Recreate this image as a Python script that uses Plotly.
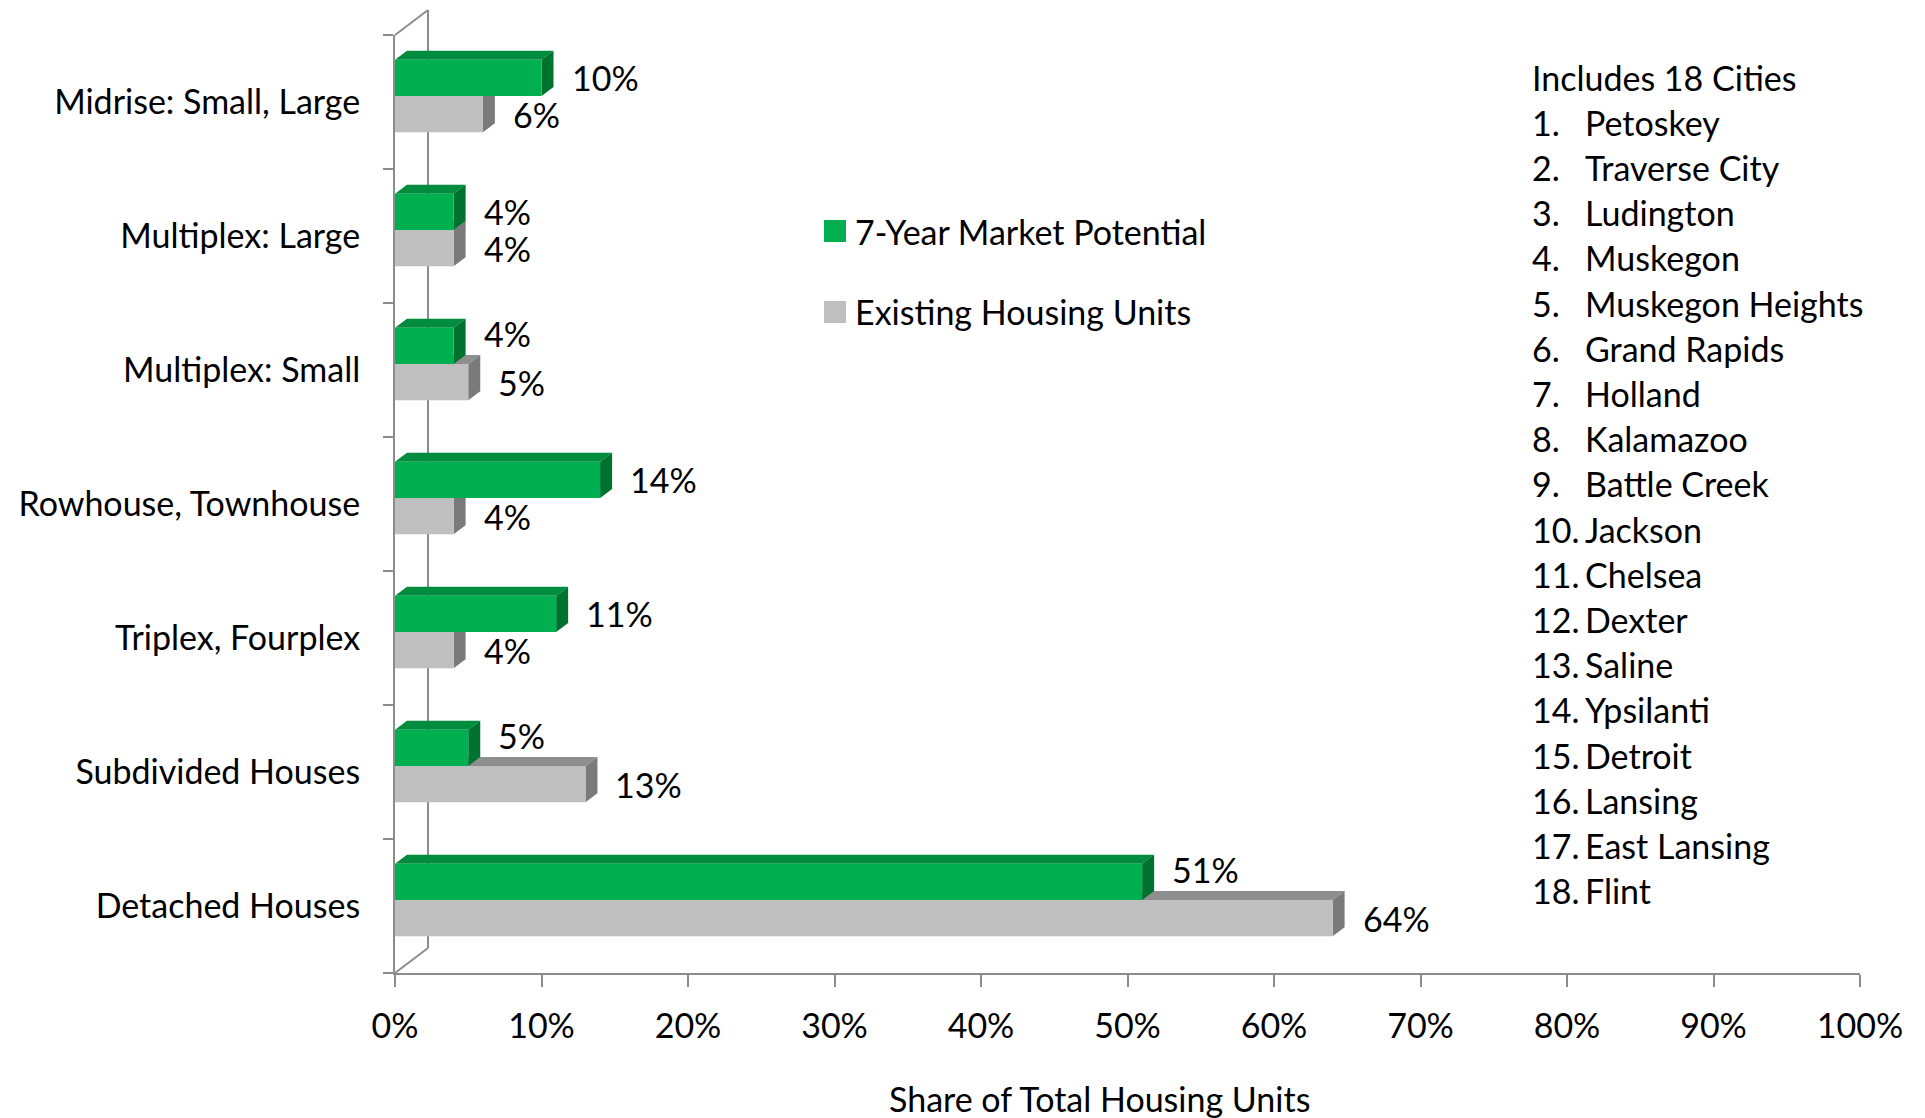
import plotly.graph_objects as go

# ---- data -------------------------------------------------------------
categories = [
    "Detached Houses",
    "Subdivided Houses",
    "Triplex, Fourplex",
    "Rowhouse, Townhouse",
    "Multiplex: Small",
    "Multiplex: Large",
    "Midrise: Small, Large",
]
market_potential = [51, 5, 11, 14, 4, 4, 10]   # 7-Year Market Potential (%)
existing_units = [64, 13, 4, 4, 5, 4, 6]       # Existing Housing Units (%)

series_names = ["7-Year Market Potential", "Existing Housing Units"]
x_tick_values = list(range(0, 101, 10))
x_tick_labels = [f"{v}%" for v in x_tick_values]

list_title = "Includes 18 Cities"
cities = [
    "Petoskey", "Traverse City", "Ludington", "Muskegon", "Muskegon Heights",
    "Grand Rapids", "Holland", "Kalamazoo", "Battle Creek", "Jackson",
    "Chelsea", "Dexter", "Saline", "Ypsilanti", "Detroit", "Lansing",
    "East Lansing", "Flint",
]
axis_title = "Share of Total Housing Units"

# ---- styling ------------------------------------------------------------
FONT = "Lato"
FS = 34
W, H = 1925, 1118
PL, PR, PT, PB = 395, 1860, 35, 973          # plot area in pixels
PW, PH = PR - PL, PB - PT

GREEN, GREEN_TOP, GREEN_SIDE = "#00B050", "#008C3E", "#00722F"
GRAY, GRAY_TOP, GRAY_SIDE = "#BFBFBF", "#8E8E8E", "#7A7A7A"
AXIS = "#8C8C8C"

BAR_W = 0.27
GREEN_OFF = 0.045
GRAY_OFF = -0.225
DX = 12 / PW * 100        # depth of the 3D faces in x units
DY = 9 / (PH / 7)         # depth of the 3D faces in category units

ypos = list(range(len(categories)))


def px_x(x):
    return (x - PL) / PW


def px_y(y):
    return (PB - y) / PH


fig = go.Figure()

fig.add_trace(go.Bar(
    x=existing_units, y=ypos, orientation="h", name=series_names[1],
    width=BAR_W, offset=GRAY_OFF, marker=dict(color=GRAY, line=dict(width=0)),
    showlegend=False, hoverinfo="x+name",
))
fig.add_trace(go.Bar(
    x=market_potential, y=ypos, orientation="h", name=series_names[0],
    width=BAR_W, offset=GREEN_OFF, marker=dict(color=GREEN, line=dict(width=0)),
    showlegend=False, hoverinfo="x+name",
))

shapes = []

# back wall of the 3D frame (behind the bars)
wall = dict(type="line", xref="paper", yref="paper", layer="below",
            line=dict(color=AXIS, width=2))
shapes.append({**wall, "x0": px_x(PL), "y0": px_y(PT), "x1": px_x(PL + 33), "y1": px_y(PT - 25)})
shapes.append({**wall, "x0": px_x(PL + 33), "y0": px_y(PT - 25), "x1": px_x(PL + 33), "y1": px_y(PB - 25)})
shapes.append({**wall, "x0": px_x(PL), "y0": px_y(PB), "x1": px_x(PL + 33), "y1": px_y(PB - 25)})


def faces(values, off, top_col, side_col):
    out = []
    for yi, v in zip(ypos, values):
        b = yi + off
        t = b + BAR_W
        top = f"M0,{t} L{v},{t} L{v + DX},{t + DY} L{DX},{t + DY} Z"
        side = f"M{v},{b} L{v},{t} L{v + DX},{t + DY} L{v + DX},{b + DY} Z"
        for p, c in ((top, top_col), (side, side_col)):
            out.append(dict(type="path", path=p, xref="x", yref="y",
                            fillcolor=c, line=dict(width=0), layer="below"))
    return out


shapes += faces(existing_units, GRAY_OFF, GRAY_TOP, GRAY_SIDE)
shapes += faces(market_potential, GREEN_OFF, GREEN_TOP, GREEN_SIDE)

# legend drawn as swatches + text
legend_rows = [(series_names[0], GREEN, 231), (series_names[1], GRAY, 312)]
annotations = []
for name, col, yc in legend_rows:
    shapes.append(dict(type="rect", xref="paper", yref="paper",
                       x0=px_x(824), x1=px_x(846), y0=px_y(yc + 11), y1=px_y(yc - 11),
                       fillcolor=col, line=dict(width=0)))
    annotations.append(dict(x=px_x(853), y=px_y(yc), xref="paper", yref="paper",
                            text=name, showarrow=False, xanchor="left", yanchor="middle",
                            font=dict(family=FONT, size=FS, color="#000")))

# value labels
for yi, g, e in zip(ypos, market_potential, existing_units):
    lift = 12 if e > g else 0
    annotations.append(dict(x=g, y=yi + GREEN_OFF + BAR_W / 2, xref="x", yref="y",
                            text=f"{g}%", showarrow=False, xanchor="left", yanchor="middle",
                            xshift=28, yshift=lift,
                            font=dict(family=FONT, size=FS, color="#000")))
    annotations.append(dict(x=e, y=yi + GRAY_OFF + BAR_W / 2, xref="x", yref="y",
                            text=f"{e}%", showarrow=False, xanchor="left", yanchor="middle",
                            xshift=28,
                            font=dict(family=FONT, size=FS, color="#000")))

# city list
LIST_Y0, LIST_STEP = 77, 45.2
annotations.append(dict(x=px_x(1530), y=px_y(LIST_Y0), xref="paper", yref="paper",
                        text=list_title, showarrow=False, xanchor="left", yanchor="middle",
                        font=dict(family=FONT, size=FS, color="#000")))
for i, city in enumerate(cities, start=1):
    yc = px_y(LIST_Y0 + i * LIST_STEP)
    annotations.append(dict(x=px_x(1530), y=yc, xref="paper", yref="paper",
                            text=f"{i}.", showarrow=False, xanchor="left", yanchor="middle",
                            font=dict(family=FONT, size=FS, color="#000")))
    annotations.append(dict(x=px_x(1583), y=yc, xref="paper", yref="paper",
                            text=city, showarrow=False, xanchor="left", yanchor="middle",
                            font=dict(family=FONT, size=FS, color="#000")))

annotations.append(dict(x=px_x(1099), y=px_y(1098), xref="paper", yref="paper",
                        text=axis_title, showarrow=False, xanchor="center", yanchor="middle",
                        font=dict(family=FONT, size=FS, color="#000")))

fig.update_layout(
    width=W, height=H,
    margin=dict(l=PL, r=W - PR, t=PT, b=H - PB, autoexpand=False),
    paper_bgcolor="white", plot_bgcolor="white",
    barmode="overlay",
    font=dict(family=FONT, size=FS, color="#000"),
    shapes=shapes, annotations=annotations,
    showlegend=False,
)
fig.update_xaxes(
    range=[0, 100], tickvals=x_tick_values, ticktext=x_tick_labels,
    showgrid=False, zeroline=False,
    showline=True, linecolor=AXIS, linewidth=2,
    ticks="outside", ticklen=12, tickwidth=2, tickcolor=AXIS,
    ticklabelstandoff=10, automargin=False,
    tickfont=dict(family=FONT, size=FS, color="#000"),
)
fig.update_yaxes(
    range=[-0.5, len(categories) - 0.5],
    tickvals=ypos, ticktext=categories,
    showgrid=False, zeroline=False,
    showline=True, linecolor=AXIS, linewidth=2,
    ticks="", ticklabelstandoff=26, automargin=False,
    minor=dict(tickvals=[i - 0.5 for i in range(len(categories) + 1)],
               ticks="outside", ticklen=10, tickwidth=2, tickcolor=AXIS),
    tickfont=dict(family=FONT, size=FS, color="#000"),
)

fig.write_html("out.html")
